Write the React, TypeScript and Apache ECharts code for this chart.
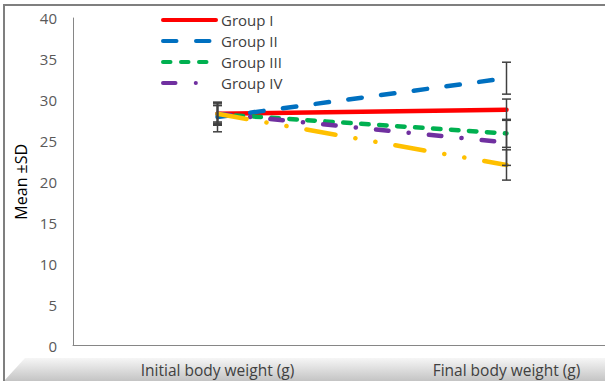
import React, { useEffect, useRef } from "react";
import * as echarts from "echarts";

const categories = ["Initial body weight (g)", "Final body weight (g)"];
const legendNames = ["Group I", "Group II", "Group III", "Group IV"];
const groupI = [28.3, 28.8];
const groupII = [27.9, 32.65];
const groupIII = [28.25, 25.9];
const groupIV = [28.3, 24.8];
const groupV = [28.3, 22.05];
const sdI = [1.3, 1.3];
const sdII = [1.8, 1.95];
const sdIII = [1.1, 1.7];
const sdIV = [1.0, 2.8];
const sdV = [1.4, 1.85];
const yTicks = { min: 0, max: 40, interval: 5 };

const FONT = "'Open Sans', Lato, sans-serif";

export default function App() {
  const ref = useRef<HTMLDivElement>(null);
  useEffect(() => {
    if (!ref.current) return;
    const chart = echarts.init(ref.current, undefined, { renderer: "svg" });
    const means = [groupI, groupII, groupIII, groupIV, groupV];
    const sds = [sdI, sdII, sdIII, sdIV, sdV];
    const names = [...legendNames, "Group V"];
    const colors = ["#FF0000", "#0070C0", "#00B050", "#7030A0", "#FFC000"];
    const dashes: any[] = [
      "solid",
      [13.5, 19.5],
      [7.5, 10.5],
      [12.5, 20.25, 0.1, 20.25],
      [29.5, 20.2, 0.1, 20.2, 0.1, 20.2],
    ];
    const errData: number[][] = [];
    means.forEach((m, g) => {
      m.forEach((v, i) => errData.push([i, v, sds[g][i]]));
    });
    const lineSeries = means.map((m, g) => ({
      type: "line",
      name: names[g],
      data: m,
      symbol: "none",
      showSymbol: false,
      color: colors[g],
      lineStyle: { width: 4.5, color: colors[g], type: dashes[g], cap: "round" },
      z: 3 + g,
    }));
    chart.setOption({
      animation: false,
      textStyle: { fontFamily: FONT },
      grid: { left: 73, right: 0, top: 18, bottom: 35.5, containLabel: false },
      legend: {
        data: legendNames,
        orient: "vertical",
        left: 156,
        top: 7,
        itemWidth: 53,
        itemHeight: 16,
        itemGap: 5,
        itemStyle: { opacity: 0 },
        lineStyle: { width: 4 },
        textStyle: { fontSize: 15, lineHeight: 16, color: "#404040", fontFamily: FONT },
      },
      graphic: [
        {
          type: "polygon",
          z: -10,
          silent: true,
          shape: { points: [[25, 358], [651, 358], [651, 381], [4, 381]] },
          style: {
            fill: new echarts.graphic.LinearGradient(0, 0, 0, 1, [
              { offset: 0, color: "#f6f6f6" },
              { offset: 1, color: "#c4c4c4" },
            ]),
          },
        },
        {
          type: "polyline",
          z: -9,
          silent: true,
          shape: { points: [[4, 381], [4, 5], [651, 5]] },
          style: { stroke: "#7f7f7f", lineWidth: 2, fill: "none" },
        },
      ],
      xAxis: {
        type: "category",
        data: categories,
        axisLine: { lineStyle: { color: "#868686", width: 1 } },
        axisTick: { show: false },
        axisLabel: { fontSize: 15.5, color: "#404040", margin: 16, fontFamily: FONT },
        splitLine: { show: false },
      },
      yAxis: {
        type: "value",
        min: yTicks.min,
        max: yTicks.max,
        interval: yTicks.interval,
        name: "Mean ±SD",
        nameLocation: "middle",
        nameGap: 40,
        nameTextStyle: { fontSize: 16, color: "#000000", fontFamily: FONT },
        axisLine: { show: true, lineStyle: { color: "#868686", width: 1 } },
        axisTick: { show: false },
        axisLabel: { fontSize: 15, color: "#595959", margin: 16, fontFamily: FONT },
        splitLine: { show: false },
      },
      series: [
        ...lineSeries,
        {
          type: "custom",
          name: "errors",
          data: errData,
          z: 10,
          encode: { x: 0, y: 1 },
          renderItem: (params: any, api: any) => {
            const x = api.value(0);
            const m = api.value(1);
            const s = api.value(2);
            const top = api.coord([x, m + s]);
            const bot = api.coord([x, m - s]);
            const hw = 4.5;
            const st = { stroke: "#404040", lineWidth: 1.5 };
            return {
              type: "group",
              children: [
                { type: "line", shape: { x1: top[0], y1: top[1], x2: bot[0], y2: bot[1] }, style: st },
                { type: "line", shape: { x1: top[0] - hw, y1: top[1], x2: top[0] + hw, y2: top[1] }, style: st },
                { type: "line", shape: { x1: bot[0] - hw, y1: bot[1], x2: bot[0] + hw, y2: bot[1] }, style: st },
              ],
            };
          },
        },
      ],
    });
    return () => chart.dispose();
  }, []);
  return (
    <div style={{ position: "fixed", left: 0, top: 0, width: 605, height: 381, overflow: "hidden", background: "#fff" }}>
      <div ref={ref} style={{ width: 651, height: 381 }} />
    </div>
  );
}
